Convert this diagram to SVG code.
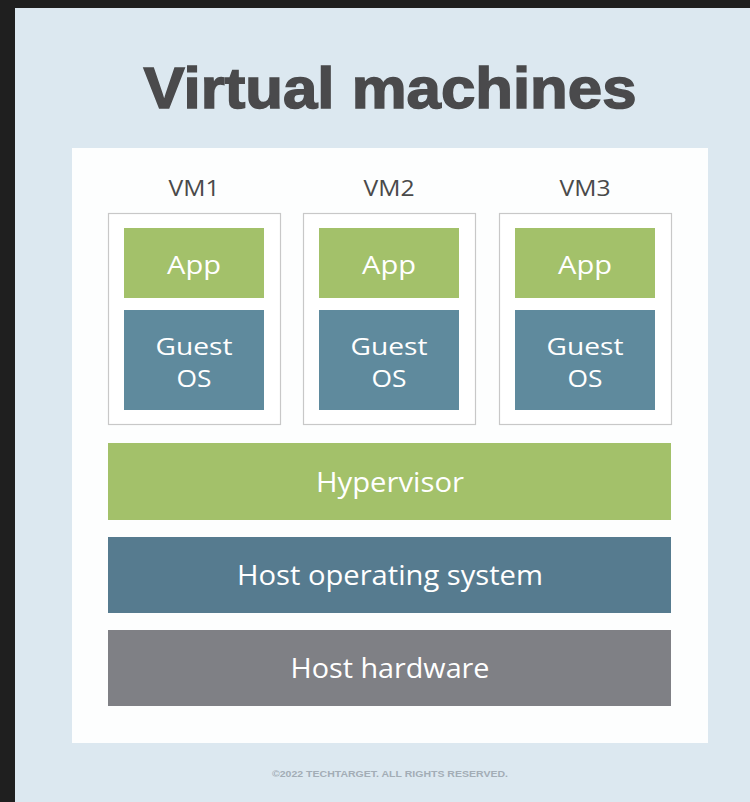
<svg xmlns="http://www.w3.org/2000/svg" width="750" height="802" viewBox="0 0 750 802">
<style>
.vmbox{fill:#ffffff;stroke:#c8c8c8;stroke-width:1.2}
.app{fill:#a3c16a}
.gos{fill:#5f8a9d}
.vml{font-family:"Open Sans","Liberation Sans",sans-serif;font-size:21px;fill:#4a4a4a;text-anchor:middle}
.wt{font-family:"Open Sans","Liberation Sans",sans-serif;font-size:26px;fill:#ffffff;text-anchor:middle}
.gt{font-family:"Open Sans","Liberation Sans",sans-serif;font-size:23px;fill:#ffffff;text-anchor:middle}
.lt{font-family:"Open Sans","Liberation Sans",sans-serif;font-size:27px;fill:#ffffff;text-anchor:middle}
</style>
<rect x="0" y="0" width="750" height="802" fill="#1f1f1f"/>
<rect x="15" y="8" width="735" height="794" fill="#dce8f0"/>
<text x="390" y="108" font-family="'Liberation Sans',Arial,sans-serif" font-weight="bold" font-size="58" fill="#4a4a4c" stroke="#4a4a4c" stroke-width="1.5" text-anchor="middle" textLength="493" lengthAdjust="spacingAndGlyphs">Virtual machines</text>
<rect x="72" y="148" width="636" height="595" fill="#fdfefe"/>
<g id="vm1">
<text class="vml" x="194" y="196" textLength="51" lengthAdjust="spacingAndGlyphs">VM1</text>
<rect class="vmbox" x="108.5" y="213.5" width="172" height="211"/>
<rect class="app" x="124" y="228" width="140" height="70"/>
<text class="wt" x="194" y="274" textLength="54" lengthAdjust="spacingAndGlyphs">App</text>
<rect class="gos" x="124" y="310" width="140" height="100"/>
<text class="gt" x="194" y="355" textLength="77" lengthAdjust="spacingAndGlyphs">Guest</text>
<text class="gt" x="194" y="387" textLength="35" lengthAdjust="spacingAndGlyphs">OS</text>
</g>
<g id="vm2">
<text class="vml" x="389" y="196" textLength="51" lengthAdjust="spacingAndGlyphs">VM2</text>
<rect class="vmbox" x="303.5" y="213.5" width="172" height="211"/>
<rect class="app" x="319" y="228" width="140" height="70"/>
<text class="wt" x="389" y="274" textLength="54" lengthAdjust="spacingAndGlyphs">App</text>
<rect class="gos" x="319" y="310" width="140" height="100"/>
<text class="gt" x="389" y="355" textLength="77" lengthAdjust="spacingAndGlyphs">Guest</text>
<text class="gt" x="389" y="387" textLength="35" lengthAdjust="spacingAndGlyphs">OS</text>
</g>
<g id="vm3">
<text class="vml" x="585" y="196" textLength="51" lengthAdjust="spacingAndGlyphs">VM3</text>
<rect class="vmbox" x="499.5" y="213.5" width="172" height="211"/>
<rect class="app" x="515" y="228" width="140" height="70"/>
<text class="wt" x="585" y="274" textLength="54" lengthAdjust="spacingAndGlyphs">App</text>
<rect class="gos" x="515" y="310" width="140" height="100"/>
<text class="gt" x="585" y="355" textLength="77" lengthAdjust="spacingAndGlyphs">Guest</text>
<text class="gt" x="585" y="387" textLength="35" lengthAdjust="spacingAndGlyphs">OS</text>
</g>
<g id="hypervisor">
<rect x="108" y="443" width="563" height="77" fill="#a3c16a"/>
<text class="lt" x="390" y="492" textLength="148" lengthAdjust="spacingAndGlyphs">Hypervisor</text>
</g>
<g id="hostos">
<rect x="108" y="537" width="563" height="76" fill="#567b8f"/>
<text class="lt" x="390" y="585" textLength="306" lengthAdjust="spacingAndGlyphs">Host operating system</text>
</g>
<g id="hardware">
<rect x="108" y="630" width="563" height="76" fill="#7f8085"/>
<text class="lt" x="390" y="678" textLength="199" lengthAdjust="spacingAndGlyphs">Host hardware</text>
</g>
<g id="connectors"/>
<text x="390" y="777" font-family="'Liberation Sans Narrow','Liberation Sans',sans-serif" font-weight="bold" font-size="9" fill="#a3adb6" text-anchor="middle" textLength="236" lengthAdjust="spacingAndGlyphs">©2022 TECHTARGET. ALL RIGHTS RESERVED.</text>
</svg>
